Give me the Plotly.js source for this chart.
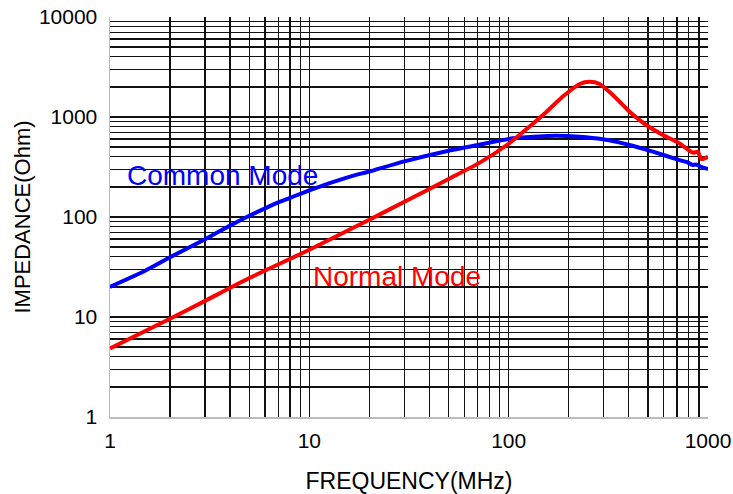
<!DOCTYPE html>
<html>
<head>
<meta charset="utf-8">
<script src="https://cdn.plot.ly/plotly-3.0.1.min.js"></script>
<style>html,body{margin:0;padding:0;background:#fff;}#chart{width:733px;height:494px;}</style>
</head>
<body>
<div id="chart"></div>
<script>
// Common mode impedance (blue)
const cmFreq = [1, 1.5, 2, 3, 4, 5, 6, 7, 8, 10, 16, 20, 30, 50, 72, 105, 140, 173, 227, 297, 404, 529, 719, 780, 839, 870, 920, 1000];
const cmZ    = [20, 29, 39.5, 60, 82, 103, 122, 140, 155, 185, 253, 285, 360, 460, 530, 612, 640, 650, 635, 598, 525, 450, 371, 355, 331, 335, 318, 302];
// Normal mode impedance (red)
const nmFreq = [1, 2, 3, 5, 10, 20, 30, 50, 72, 100, 127, 155, 187, 227, 255, 286, 333, 404, 490, 594, 719, 839, 889, 925, 960, 1000];
const nmZ    = [4.85, 9.6, 14.5, 24.5, 47, 94, 142, 240, 352, 540, 800, 1130, 1600, 2140, 2250, 2140, 1660, 1130, 832, 661, 545, 440, 448, 380, 385, 400];

const xTickVals = [];
const yTickVals = [];
for (let d = 0; d < 3; d++) for (let k = 1; k < 10; k++) xTickVals.push(k * Math.pow(10, d));
xTickVals.push(1000);
for (let d = 0; d < 4; d++) for (let k = 1; k < 10; k++) yTickVals.push(k * Math.pow(10, d));
yTickVals.push(10000);
const label = v => (Math.abs(Math.log10(v) - Math.round(Math.log10(v))) < 1e-9 ? String(v) : '');

const font = {family: 'Liberation Sans, Arial, sans-serif', color: '#000'};

const data = [
  {x: cmFreq, y: cmZ, type: 'scatter', mode: 'lines', line: {color: '#0000ff', width: 4, shape: 'spline', smoothing: 0.6}, name: 'Common Mode', hoverinfo: 'x+y'},
  {x: nmFreq, y: nmZ, type: 'scatter', mode: 'lines', line: {color: '#ff0000', width: 4, shape: 'spline', smoothing: 0.6}, name: 'Normal Mode', hoverinfo: 'x+y'}
];

const layout = {
  width: 733, height: 494,
  margin: {l: 110, r: 25, t: 17, b: 77},
  paper_bgcolor: '#fff', plot_bgcolor: '#fff',
  showlegend: false,
  font: Object.assign({size: 21}, font),
  xaxis: {
    type: 'log', range: [0, 3], tickmode: 'array', tickvals: xTickVals, ticktext: xTickVals.map(label),
    showgrid: true, gridcolor: '#111', gridwidth: 1.4, ticks: '', zeroline: false,
    showline: true, linecolor: '#bbb', linewidth: 1.5, mirror: false,
    ticklabelstandoff: 4, tickfont: Object.assign({size: 21}, font),
    title: {text: 'FREQUENCY(MHz)', font: Object.assign({size: 23}, font), standoff: 23}
  },
  yaxis: {
    type: 'log', range: [0, 4], tickmode: 'array', tickvals: yTickVals, ticktext: yTickVals.map(label),
    showgrid: true, gridcolor: '#111', gridwidth: 1.4, ticks: '', zeroline: false,
    showline: true, linecolor: '#bbb', linewidth: 1.5, mirror: false,
    ticklabelstandoff: 7, tickfont: Object.assign({size: 21}, font),
    title: {text: 'IMPEDANCE(Ohm)', font: Object.assign({size: 22}, font), standoff: 2}
  },
  annotations: [
    {text: 'Common Mode', x: Math.log10(3.68), y: Math.log10(263), xref: 'x', yref: 'y', showarrow: false, font: Object.assign({}, font, {size: 28, color: '#0000ff'})},
    {text: 'Normal Mode', x: Math.log10(27.5), y: Math.log10(25.5), xref: 'x', yref: 'y', showarrow: false, font: Object.assign({}, font, {size: 28, color: '#ff0000'})}
  ]
};

Plotly.newPlot('chart', data, layout, {displayModeBar: false, staticPlot: true});
</script>
</body>
</html>
